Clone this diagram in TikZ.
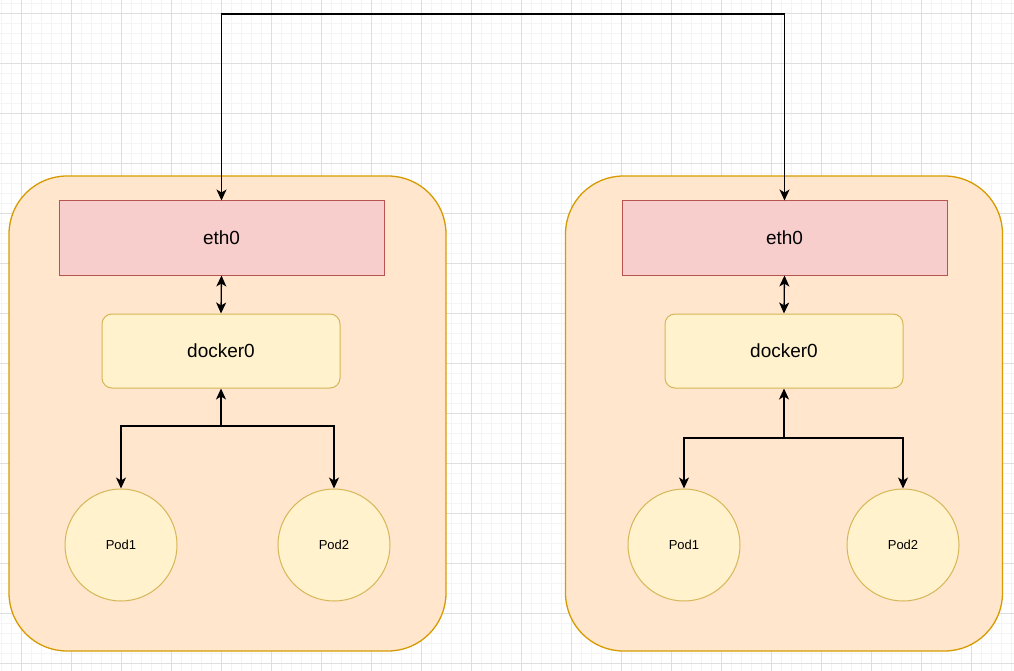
\documentclass[tikz,border=0pt]{standalone}
\usepackage{fontspec}
\setmainfont{Liberation Sans}
\usetikzlibrary{arrows.meta, positioning, calc}
\definecolor{cHost}{RGB}{255,230,204}
\definecolor{cHostLine}{RGB}{215,155,0}
\definecolor{cNic}{RGB}{248,206,204}
\definecolor{cNicLine}{RGB}{184,84,80}
\definecolor{cBridge}{RGB}{255,242,204}
\definecolor{cBridgeLine}{RGB}{214,182,86}
\definecolor{cGridMinor}{RGB}{244,244,244}
\definecolor{cGridMajor}{RGB}{222,222,222}
\tikzset{
	host/.style   ={rectangle, rounded corners=58pt, minimum width=437pt, minimum height=475pt, draw=cHostLine, line width=1.3pt, fill=cHost},
	nic/.style    ={rectangle, minimum width=325pt, minimum height=74pt, draw=cNicLine, line width=1pt, fill=cNic, font=\fontsize{19}{23}\selectfont},
	bridge/.style ={rectangle, rounded corners=10pt, minimum width=238pt, minimum height=74pt, draw=cBridgeLine, line width=1pt, fill=cBridge, font=\fontsize{19}{23}\selectfont},
	pod/.style    ={circle, minimum size=112pt, inner sep=0pt, draw=cBridgeLine, line width=1pt, fill=cBridge, font=\fontsize{13}{16}\selectfont},
	link/.style   ={-{Stealth[length=11pt, width=10pt, inset=3pt]}, line width=1.3pt},
	duplex/.style ={{Stealth[length=11pt, width=10pt, inset=3pt]}-{Stealth[length=11pt, width=10pt, inset=3pt]}, line width=1.3pt},
	gridminor/.style={draw=cGridMinor, line width=0.8pt},
	gridmajor/.style={draw=cGridMajor, line width=0.9pt},
}
\begin{document}
\begin{tikzpicture}[x=1pt, y=-1pt]
	\useasboundingbox (0,0) rectangle (1014,671);
	% background grid
	\foreach \gx in {1,11,...,1011} \draw[gridminor] (\gx,0) -- (\gx,671);
	\foreach \gy in {3,13,...,663} \draw[gridminor] (0,\gy) -- (1014,\gy);
	\foreach \gx in {21,71,...,1011} \draw[gridmajor] (\gx,0) -- (\gx,671);
	\foreach \gy in {13,63,...,663} \draw[gridmajor] (0,\gy) -- (1014,\gy);
	% two hosts
	\foreach \h/\hx/\dx/\pa/\pb/\jy in {L/227.5/0/121/334/426, R/784/563/684/903/438} {
		\node[host] (host\h) at (\hx,413.5) {};
		\node[nic] (eth\h) at ({221.5+\dx},238) {eth0};
		\node[bridge] (docker\h) at ({221+\dx},351) {docker0};
		\node[pod] (podA\h) at (\pa,545) {Pod1};
		\node[pod] (podB\h) at (\pb,545) {Pod2};
		\coordinate (join\h) at ({221+\dx},\jy);
		\draw[duplex] (eth\h.south) -- (docker\h.north);
		\draw[link] (join\h) -- (docker\h.south);
		\draw[link] (join\h) -| (podA\h);
		\draw[link] (join\h) -| (podB\h);
	}
	% link between the hosts
	\coordinate (wire) at (500,14);
	\draw[duplex] (ethL.north) |- (wire) -| (ethR.north);
\end{tikzpicture}
\end{document}
